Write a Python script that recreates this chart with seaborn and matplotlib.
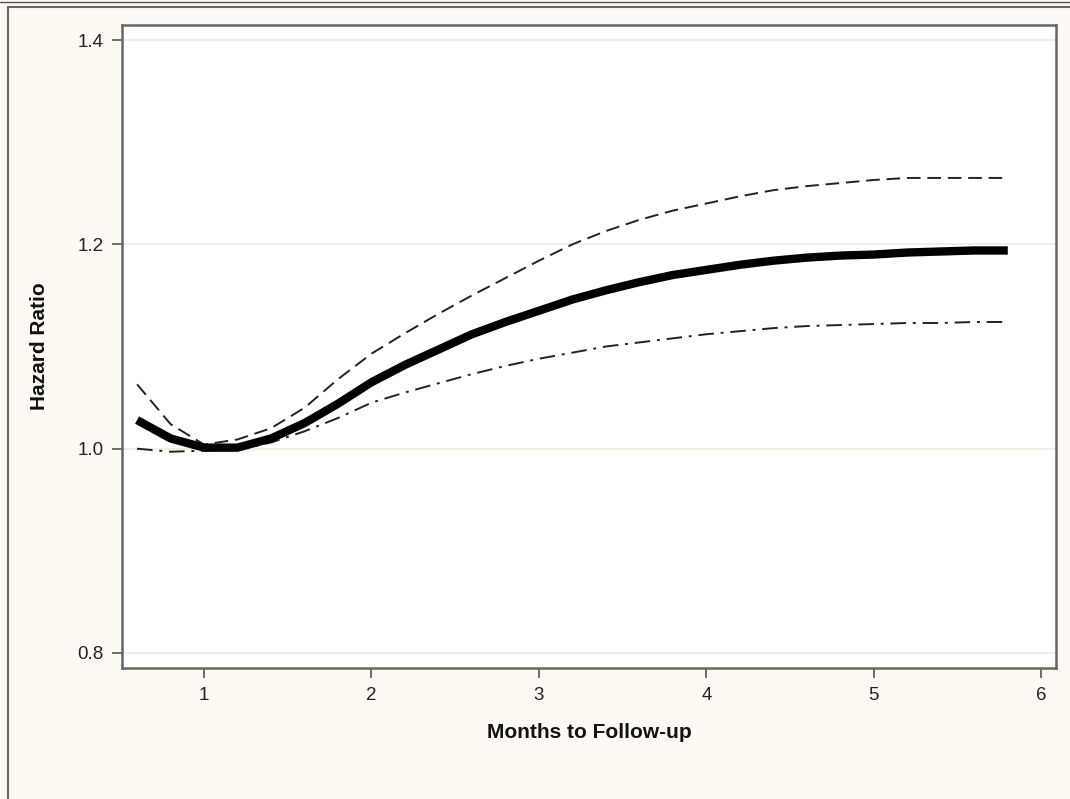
import matplotlib
matplotlib.use("Agg")
import matplotlib.pyplot as plt
from matplotlib.lines import Line2D
import seaborn as sns
import pandas as pd

months = [0.6, 0.8, 1.0, 1.2, 1.4, 1.6, 1.8, 2.0, 2.2, 2.4, 2.6, 2.8, 3.0, 3.2,
          3.4, 3.6, 3.8, 4.0, 4.2, 4.4, 4.6, 4.8, 5.0, 5.2, 5.4, 5.6, 5.8]
hazard_ratio = [1.028, 1.010, 1.001, 1.001, 1.010, 1.025, 1.044, 1.065, 1.082, 1.097,
                1.112, 1.124, 1.135, 1.146, 1.155, 1.163, 1.170, 1.175, 1.180, 1.184,
                1.187, 1.189, 1.190, 1.192, 1.193, 1.194, 1.194]
upper_ci = [1.063, 1.024, 1.004, 1.009, 1.020, 1.040, 1.068, 1.093, 1.113, 1.132,
            1.150, 1.167, 1.184, 1.200, 1.213, 1.224, 1.233, 1.240, 1.247, 1.253,
            1.257, 1.260, 1.263, 1.265, 1.265, 1.265, 1.265]
lower_ci = [1.000, 0.997, 0.998, 0.999, 1.006, 1.017, 1.030, 1.045, 1.055, 1.064,
            1.073, 1.081, 1.088, 1.094, 1.100, 1.104, 1.108, 1.112, 1.115, 1.118,
            1.120, 1.121, 1.122, 1.123, 1.123, 1.124, 1.124]
x_ticks = [1, 2, 3, 4, 5, 6]
y_ticks = [0.8, 1.0, 1.2, 1.4]
y_tick_labels = ["0.8", "1.0", "1.2", "1.4"]

df = pd.DataFrame({"months": months, "hr": hazard_ratio,
                   "upper": upper_ci, "lower": lower_ci})

sns.set_style("white")
plt.rcParams["font.family"] = ["Liberation Sans", "DejaVu Sans"]

bg = "#fdfaf3"
fig = plt.figure(figsize=(10.7, 7.99), dpi=100, facecolor=bg)
ax = fig.add_axes([122 / 1070, 1 - 668 / 799, (1056 - 122) / 1070, (668 - 25) / 799])
ax.set_facecolor("white")

for yv in y_ticks:
    ax.axhline(yv, color="#ecebe2", lw=1.2, zorder=0)

sns.lineplot(data=df, x="months", y="upper", ax=ax, color="#222222", lw=1.4,
             linestyle=(0, (7, 3.5)))
sns.lineplot(data=df, x="months", y="lower", ax=ax, color="#222222", lw=1.4,
             linestyle=(0, (8, 3.5, 1.5, 3.5)))
sns.lineplot(data=df, x="months", y="hr", ax=ax, color="black", lw=6.0,
             solid_capstyle="butt", solid_joinstyle="round")

ax.set_xlim(0.51, 6.088)
ax.set_ylim(0.7853, 1.4147)
ax.set_xticks(x_ticks)
ax.set_xticklabels([str(t) for t in x_ticks])
ax.set_yticks(y_ticks)
ax.set_yticklabels(y_tick_labels)
ax.tick_params(axis="both", which="major", bottom=True, left=True, top=False, right=False,
               direction="out", length=7, width=1.2, color="#555555",
               labelsize=13.5, labelcolor="#222222")
ax.tick_params(axis="x", pad=7)
ax.tick_params(axis="y", pad=6)
for s in ax.spines.values():
    s.set_color("#666666")
    s.set_linewidth(1.8)

ax.set_xlabel("Months to Follow-up", fontsize=15, fontweight="bold", color="#111111")
ax.set_ylabel("Hazard Ratio", fontsize=15, fontweight="bold", color="#111111")
ax.xaxis.set_label_coords(0.5, (668 - 733) / 643)
ax.yaxis.set_label_coords((40 - 122) / 934, 0.5)
ax.xaxis.label.set_va("center")
ax.yaxis.label.set_va("center")

# outer frame lines (figure pixel coordinates)
tr = fig.transFigure
W, H = 1070, 799
fig.add_artist(Line2D([0, 1], [1 - 2 / H, 1 - 2 / H], transform=tr, color="#555555", lw=1.0))
fig.add_artist(Line2D([8 / W, 1], [1 - 6.5 / H, 1 - 6.5 / H], transform=tr, color="#666666", lw=1.5))
fig.add_artist(Line2D([8 / W, 8 / W], [0, 1 - 6.5 / H], transform=tr, color="#666666", lw=1.5))

fig.savefig("out.png", dpi=100, facecolor=bg)
